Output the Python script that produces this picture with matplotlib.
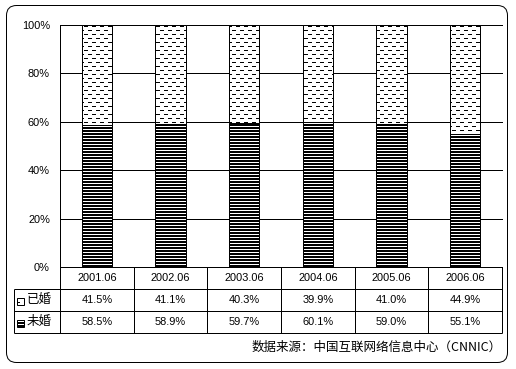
import warnings
warnings.filterwarnings("ignore")
import numpy as np
import matplotlib
matplotlib.use("Agg")
import matplotlib.pyplot as plt
import matplotlib.hatch as mhatch
from matplotlib.path import Path
from matplotlib.patches import FancyBboxPatch, Rectangle
from matplotlib.transforms import IdentityTransform

# ---------------- data ----------------
categories = ['2001.06', '2002.06', '2003.06', '2004.06', '2005.06', '2006.06']
series_names = ['已婚', '未婚']
married = [41.5, 41.1, 40.3, 39.9, 41.0, 44.9]
unmarried = [58.5, 58.9, 59.7, 60.1, 59.0, 55.1]
yticks = [0, 20, 40, 60, 80, 100]
source_text = '数据来源：中国互联网络信息中心（CNNIC）'

# ---------------- pixel-exact hatch patterns ----------------
DPI = 120
W, H = 516, 369
TILE = DPI


class PixelHatch(mhatch.HatchPatternBase):
    def __init__(self, hatch, density):
        self.rects = []
        if 'b' in hatch:  # dense horizontal bands: 2px black / 1px white
            for k in range(TILE // 3):
                self.rects.append((0, 3 * k, TILE, 3 * k + 2))
        if 'd' in hatch:  # staggered short dashes
            for r in range(TILE // 4):
                off = 0 if r % 2 == 0 else 4
                for c in range(TILE // 8):
                    x0 = c * 8 + off
                    self.rects.append((x0, 4 * r + 1, x0 + 4, 4 * r + 2))
        self.num_vertices = 5 * len(self.rects)

    def set_vertices_and_codes(self, vertices, codes):
        for i, (x0, y0, x1, y1) in enumerate(self.rects):
            v = np.array([[x0, y0], [x1, y0], [x1, y1], [x0, y1], [x0, y0]], float) / TILE
            vertices[5 * i:5 * i + 5] = v
            codes[5 * i:5 * i + 5] = [Path.MOVETO, Path.LINETO, Path.LINETO,
                                      Path.LINETO, Path.CLOSEPOLY]


mhatch._hatch_types.append(PixelHatch)
plt.rcParams['hatch.linewidth'] = 0.0
plt.rcParams['hatch.color'] = 'black'

PX = 72.0 / DPI  # one pixel in points
NUM_FONT = ['Liberation Sans', 'DejaVu Sans']
CJK_FONT = ['Noto Sans CJK SC', 'DejaVu Sans']
plt.rcParams['font.family'] = NUM_FONT

fig = plt.figure(figsize=(W / DPI, H / DPI), dpi=DPI)

# main axes (pixels: left 60, right 502, top 25, bottom 267)
L, R, T, B = 60, 502, 25, 267
ax = fig.add_axes([L / W, (H - B) / H, (R - L) / W, (B - T) / H])
x = np.arange(len(categories))
bw = 0.41
ax.bar(x, unmarried, bw, color='white', edgecolor='black', linewidth=PX,
       hatch='b', zorder=3)
ax.bar(x, married, bw, bottom=unmarried, color='white', edgecolor='black',
       linewidth=PX, hatch='d', zorder=3)
ax.set_xlim(-0.5, len(categories) - 0.5)
ax.set_ylim(0, 100)
ax.set_yticks(yticks)
ax.set_yticklabels([f'{v}%' for v in yticks], fontsize=11 * PX)
ax.set_xticks([])
ax.tick_params(axis='y', length=0, pad=10 * PX)
for s in ['top', 'right', 'bottom']:
    ax.spines[s].set_visible(False)
ax.spines['left'].set_linewidth(PX)
ax.yaxis.grid(True, color='black', linewidth=PX, zorder=1)
ax.set_axisbelow(True)
for gl in ax.get_ygridlines():
    gl.set_clip_on(False)

# table axes (pixels: top 267, bottom 333)
TB = 333
tax = fig.add_axes([L / W, (H - TB) / H, (R - L) / W, (TB - B) / H])
tax.set_xlim(-0.5, len(categories) - 0.5)
tax.set_ylim(3, 0)
tax.axis('off')
colw = (R - L) / len(categories)
xl = -0.5 - (L - 14) / colw
lk = dict(color='black', linewidth=PX, clip_on=False, solid_capstyle='butt')
tax.plot([-0.5, len(categories) - 0.5], [0, 0], **lk)
for yy in [1, 2, 3]:
    tax.plot([xl, len(categories) - 0.5], [yy, yy], **lk)
for k in range(len(categories) + 1):
    tax.plot([-0.5 + k, -0.5 + k], [0, 3], **lk)
tax.plot([xl, xl], [1, 3], **lk)

for i, c in enumerate(categories):
    tax.text(i, 0.5, c, ha='center', va='center', fontsize=11 * PX,
             family=NUM_FONT)
    tax.text(i, 1.5, f'{married[i]:.1f}%', ha='center', va='center',
             fontsize=11 * PX, family=NUM_FONT)
    tax.text(i, 2.5, f'{unmarried[i]:.1f}%', ha='center', va='center',
             fontsize=11 * PX, family=NUM_FONT)

icon_x = xl + 2.5 / colw
icon_w = 7 / colw
row_h_px = (TB - B) / 3.0
icon_h = 7 / row_h_px
for r, (name, hp) in enumerate(zip(series_names, ['d', 'b'])):
    yc = 1.5 + r
    tax.add_patch(Rectangle((icon_x, yc - icon_h / 2 + 0.05), icon_w, icon_h,
                            facecolor='white', edgecolor='black', linewidth=PX,
                            hatch=hp, clip_on=False))
    tax.text(xl + 13 / colw, yc, name, ha='left', va='center',
             fontsize=12.5 * PX, family=CJK_FONT)

# source text
fig.text(502 / W, (H - 347) / H, source_text, ha='right', va='center',
         fontsize=12.5 * PX, family=CJK_FONT)

# rounded border
border = FancyBboxPatch((6.5, H - 362.5), 501, 357,
                        boxstyle='round,pad=0,rounding_size=10',
                        transform=IdentityTransform(), fill=False,
                        edgecolor='black', linewidth=PX)
fig.patches.append(border)

fig.savefig('out.png', dpi=DPI, facecolor='white')
